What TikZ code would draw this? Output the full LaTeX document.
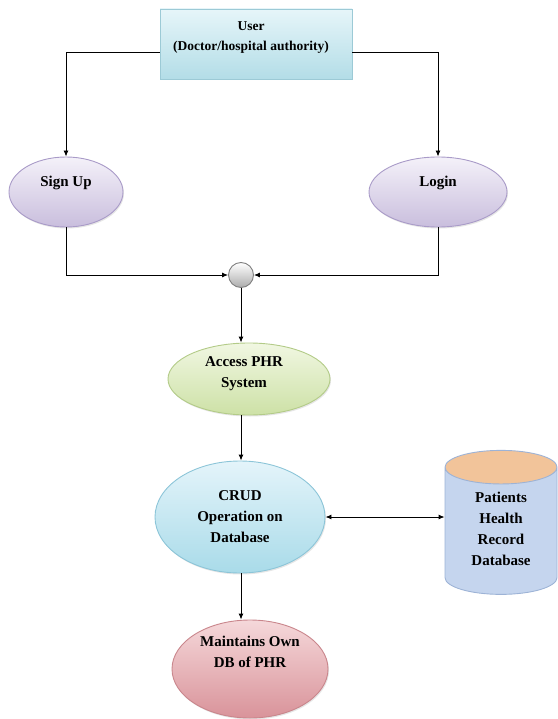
\documentclass[tikz,border=0pt]{standalone}
\usepackage{fontspec}
\setmainfont{Liberation Serif}
\usetikzlibrary{shapes.geometric,arrows.meta,shadows}

\definecolor{lavtop}{HTML}{F4F1F9}
\definecolor{lavbot}{HTML}{C9BEDD}
\definecolor{lavline}{HTML}{A99BC8}
\definecolor{grntop}{HTML}{F1F7E2}
\definecolor{grnbot}{HTML}{CDE1A6}
\definecolor{grnline}{HTML}{B3CB88}
\definecolor{cyntop}{HTML}{E4F4FA}
\definecolor{cynbot}{HTML}{A9DBE9}
\definecolor{cynline}{HTML}{8CC5D8}
\definecolor{pnktop}{HTML}{F5D8DA}
\definecolor{pnkbot}{HTML}{D9939A}
\definecolor{pnkline}{HTML}{C9868C}
\definecolor{usrtop}{HTML}{E6F5F9}
\definecolor{usrbot}{HTML}{B3DDE7}
\definecolor{usrline}{HTML}{9CCAD6}
\definecolor{cylbody}{HTML}{C5D5EE}
\definecolor{cylend}{HTML}{F2C49A}
\definecolor{cylline}{HTML}{9DB3D6}

\tikzset{
  lbl/.style={font=\fontsize{15}{21}\selectfont\bfseries, align=center, text=black},
  softshadow/.style={drop shadow={shadow xshift=1pt, shadow yshift=-1.5pt, opacity=0.2}},
  usrbox/.style={rectangle, draw=usrline, top color=usrtop, bottom color=usrbot, inner sep=0pt, softshadow},
  oval/.style={ellipse, draw=#1line, top color=#1top, bottom color=#1bot, inner sep=0pt, softshadow},
  junc/.style={circle, draw=gray, top color=white, bottom color=gray!65, inner sep=0pt, minimum size=25pt},
  dbcyl/.style={cylinder, shape border rotate=90, draw=cylline, cylinder uses custom fill,
    cylinder body fill=cylbody, cylinder end fill=cylend, inner sep=0pt, text width=112pt}
}

\begin{document}
\begin{tikzpicture}[x=1pt, y=1pt, >={Latex[length=6pt,width=5pt]}, line width=0.9pt]
  \useasboundingbox (0,0) rectangle (557,-719);

  \node[usrbox, minimum width=192pt, minimum height=70pt,
        label={[lbl, font=\fontsize{13.5}{20}\selectfont\bfseries, xshift=-5pt, yshift=6pt]center:{User\\(Doctor/hospital authority)}}] (user) at (256,-44) {};
  \node[oval=lav, minimum width=114pt, minimum height=70pt, label={[lbl, yshift=9pt]center:Sign Up}] (signup) at (66,-192) {};
  \node[oval=lav, minimum width=138pt, minimum height=70pt, label={[lbl, yshift=9pt]center:Login}] (login) at (438,-192) {};
  \node[junc] (join) at (241,-275) {};
  \node[oval=grn, minimum width=162pt, minimum height=72pt, label={[lbl, xshift=-5pt, yshift=5pt]center:{Access PHR\\System}}] (access) at (249,-379) {};
  \node[oval=cyn, minimum width=170pt, minimum height=112pt, label={[lbl]center:{CRUD\\Operation on\\Database}}] (crud) at (240,-517) {};
  \node[dbcyl, minimum height=144pt, aspect=0.3, label={[lbl, yshift=2pt]center:{Patients\\Health\\Record\\Database}}] (phrdb) at (501,-531) {};
  \node[oval=pnk, minimum width=156pt, minimum height=98pt, label={[lbl, yshift=17pt]center:{Maintains Own\\DB of PHR}}] (maint) at (250,-669) {};

  \draw[->] ([yshift=-8pt]user.west) -| (signup.north);
  \draw[->] ([yshift=-8pt]user.east) -| (login.north);
  \draw[->] (signup.south) |- (join.west);
  \draw[->] (login.south) |- (join.east);
  \draw[->] (join.south) -- (join.south |- access.north);
  \draw[->] (join.south |- access.south) -- (join.south |- crud.north);
  \draw[<->] (crud.east) -- (crud.east -| phrdb.west);
  \draw[->] (join.south |- crud.south) -- (join.south |- maint.north);
\end{tikzpicture}
\end{document}
